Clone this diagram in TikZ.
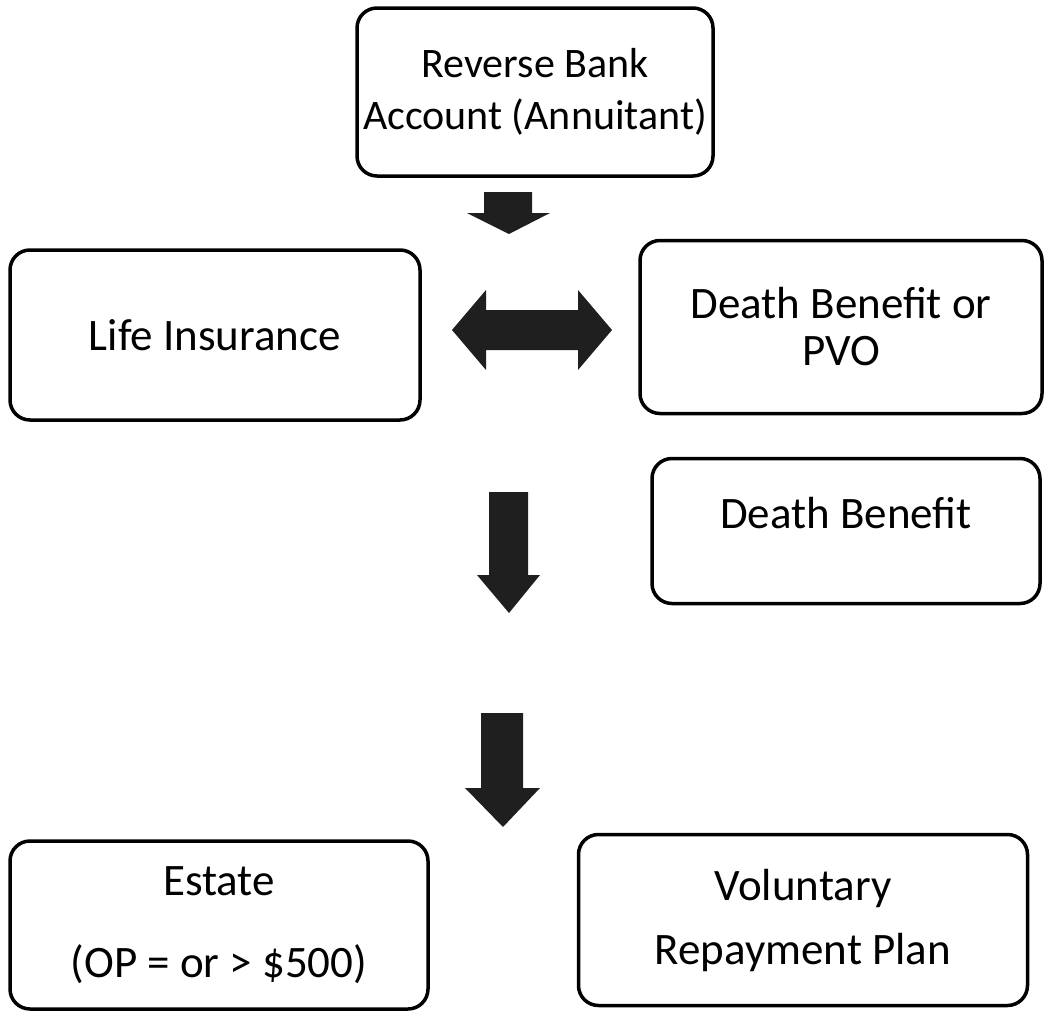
\documentclass[tikz,border=0pt]{standalone}
\usepackage{fontspec}
\setmainfont{Carlito}
\usepackage{tikz}

\begin{document}
\begin{tikzpicture}[x=1pt,y=-1pt,
  box/.style={draw,line width=3.5pt,rounded corners=20pt,align=center,inner sep=0pt,font=\fontsize{45}{50}\selectfont},
  blk/.style={fill=black!88}]
\useasboundingbox (0,0) rectangle (1045,1012);
\node[box,minimum width=356pt,minimum height=168pt,font=\fontsize{42}{52}\selectfont] (rba) at (535,92) {Reverse Bank\\Account (Annuitant)};
\node[box,minimum width=410pt,minimum height=170pt] (life) at (215,335) {Life Insurance};
\node[box,minimum width=402pt,minimum height=173pt] (dbpvo) at (841,327) {Death Benefit or\\[-3pt]PVO};
\node[box,minimum width=388pt,minimum height=145pt] (db) at (846,531) {\raisebox{36pt}{Death Benefit}};
\node[box,minimum width=418pt,minimum height=168pt] (estate) at (219,925) {Estate\\[32pt](OP = or > \$500)};
\node[box,minimum width=449pt,minimum height=171pt] (vrp) at (803,920) {Voluntary\\[14pt]Repayment Plan};
% block arrows
\fill[blk] (484,192)--(532,192)--(532,213)--(550,213)--(509,234)--(467,213)--(484,213)--cycle;
\fill[blk] (452,330)--(486,290)--(486,310)--(578,310)--(578,290)--(612,330)--(578,370)--(578,350)--(486,350)--(486,370)--cycle;
\fill[blk] (489,492)--(528,492)--(528,575)--(540,575)--(509,613)--(477,575)--(489,575)--cycle;
\fill[blk] (481,713)--(523,713)--(523,788)--(540,788)--(503,827)--(465,788)--(481,788)--cycle;
\end{tikzpicture}
\end{document}
